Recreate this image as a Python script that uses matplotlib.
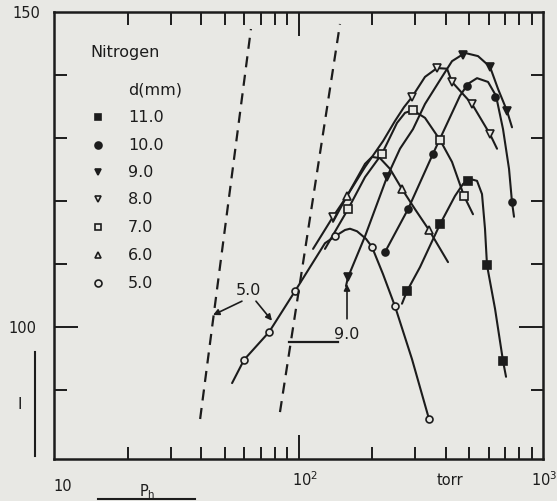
import matplotlib
matplotlib.use('Agg')
import matplotlib.pyplot as plt
from matplotlib.lines import Line2D
from matplotlib.ticker import FixedLocator

bg = '#e8e8e4'
ink = '#1c1c1c'

# legend (diameter in mm)
d_labels = ['11.0', '10.0', '9.0', '8.0', '7.0', '6.0', '5.0']

# curves: pressure (torr) and value
p_5 = [53.5, 59.9, 75.8, 96.8, 128.3, 141.1, 155.0, 162.4, 173.5, 188.8, 199.8, 221.6, 248.1, 291.2, 341.8]
v_5 = [91.1, 94.8, 99.2, 105.7, 113.3, 114.4, 115.4, 115.6, 115.2, 114.0, 112.7, 108.4, 103.3, 94.9, 85.4]
p_6 = [138.4, 157.9, 187.1, 199.8, 215.4, 236.7, 265.0, 299.6, 341.8, 408.8]
v_6 = [116.7, 120.8, 125.9, 127.0, 126.8, 125.1, 121.9, 118.7, 115.4, 110.3]
p_7 = [128.3, 159.4, 187.1, 219.5, 252.9, 272.7, 293.9, 329.1, 379.0, 424.5, 475.3, 517.2]
v_7 = [112.4, 118.7, 123.8, 127.5, 132.4, 134.0, 134.4, 133.2, 129.7, 126.2, 120.8, 117.9]
p_8 = [114.7, 138.4, 157.9, 187.1, 221.6, 248.1, 270.1, 291.2, 329.1, 368.6, 405.0, 424.5, 512.4, 607.1, 648.6]
v_8 = [112.4, 117.5, 120.8, 125.4, 129.5, 132.7, 134.9, 136.5, 139.7, 141.1, 141.0, 138.9, 135.4, 130.6, 128.3]
p_9 = [156.4, 159.4, 187.1, 230.1, 260.1, 293.9, 329.1, 386.3, 424.5, 479.8, 542.2, 607.1, 654.6, 712.6, 746.9]
v_9 = [106.5, 107.9, 114.4, 123.8, 128.3, 131.4, 135.4, 139.7, 142.2, 143.5, 143.0, 141.3, 137.8, 134.3, 131.7]
p_10 = [225.9, 280.5, 354.9, 416.6, 457.6, 493.6, 537.2, 595.9, 642.5, 686.3, 726.2, 746.9, 761.1]
v_10 = [111.9, 118.7, 127.5, 133.3, 136.7, 138.6, 139.5, 138.9, 136.7, 131.4, 125.1, 119.8, 117.5]
p_11 = [265.0, 277.8, 314.0, 379.0, 436.6, 470.8, 502.8, 537.2, 563.0, 579.1, 590.2, 636.5, 686.3, 706.0]
v_11 = [103.7, 105.7, 109.5, 116.3, 120.8, 122.7, 123.5, 123.2, 121.1, 115.6, 109.8, 102.9, 94.6, 92.1]

# measured points
pm_5 = [59.9, 75.8, 96.8, 141.1, 199.8, 248.1, 341.8]
vm_5 = [94.8, 99.2, 105.7, 114.4, 112.7, 103.3, 85.4]
pm_6 = [157.9, 265.0, 341.8]
vm_6 = [120.8, 121.9, 115.4]
pm_7 = [159.4, 219.5, 293.9, 379.0, 475.3]
vm_7 = [118.7, 127.5, 134.4, 129.7, 120.8]
pm_8 = [138.4, 291.2, 368.6, 424.5, 512.4, 607.1]
vm_8 = [117.5, 136.5, 141.1, 138.9, 135.4, 130.6]
pm_9 = [159.4, 230.1, 470.8, 607.1, 712.6]
vm_9 = [107.9, 123.8, 143.2, 141.3, 134.3]
pm_10 = [225.9, 280.5, 354.9, 489.0, 636.5, 746.9]
vm_10 = [111.9, 118.7, 127.5, 138.3, 136.5, 119.8]
pm_11 = [277.8, 379.0, 493.6, 590.2, 686.3]
vm_11 = [105.7, 116.3, 123.2, 109.8, 94.6]

# dashed boundary lines
dash_a_p = [39.6, 63.9]
dash_a_v = [85.4, 147.3]
dash_b_p = [84.0, 147.8]
dash_b_v = [86.5, 148.1]

series = [
    (p_11, v_11, pm_11, vm_11, 's', True),
    (p_10, v_10, pm_10, vm_10, 'o', True),
    (p_9, v_9, pm_9, vm_9, 'v', True),
    (p_8, v_8, pm_8, vm_8, 'v', False),
    (p_7, v_7, pm_7, vm_7, 's', False),
    (p_6, v_6, pm_6, vm_6, '^', False),
    (p_5, v_5, pm_5, vm_5, 'o', False),
]

W, H = 557, 502
fig = plt.figure(figsize=(W / 100, H / 100), dpi=100, facecolor=bg)
ax = fig.add_axes([54 / W, 42 / H, 489 / W, 447 / H], facecolor=bg)
ax.set_xscale('log')
ax.set_xlim(10, 1000)
ax.set_ylim(79.05, 150)


def fxy(x, y):
    return x / W, 1 - y / H


def axp(x, y):
    return (x - 54) / 489, (460 - y) / 447


# curves
for p, v, pm, vm, mk, filled in series:
    ax.plot(p, v, color=ink, lw=1.5, solid_capstyle='round')
    ax.plot(pm, vm, linestyle='none', marker=mk, ms=5.5 if mk != 'o' else 5,
            mfc=ink if filled else bg, mec=ink, mew=1.2)

ax.plot(dash_a_p, dash_a_v, color=ink, lw=1.6, linestyle=(0, (5, 3.4)))
ax.plot(dash_b_p, dash_b_v, color=ink, lw=1.6, linestyle=(0, (5, 3.4)))

# annotations
arw = dict(arrowstyle='-|>', color=ink, lw=1.2, mutation_scale=9, shrinkA=0, shrinkB=0)
ax.text(62.7, 105.9, '5.0', ha='center', va='center', fontsize=11.5, color=ink)
ax.annotate('', xy=(44.7, 101.9), xytext=(58.7, 104.1), arrowprops=arw)
ax.annotate('', xy=(77.9, 101.0), xytext=(67.0, 104.1), arrowprops=arw)
ax.text(157.9, 98.9, '9.0', ha='center', va='center', fontsize=11.5, color=ink)
ax.annotate('', xy=(157.9, 106.8), xytext=(157.9, 101.3), arrowprops=arw)
ax.plot([91.5, 145.1], [97.6, 97.6], color=ink, lw=1.6)

# axes styling
for s in ax.spines.values():
    s.set_linewidth(1.8)
    s.set_color(ink)
ax.xaxis.set_major_locator(FixedLocator([100]))
ax.xaxis.set_minor_locator(FixedLocator([20, 30, 40, 50, 60, 70, 80, 90,
                                         200, 300, 400, 500, 600, 700, 800, 900]))
ax.yaxis.set_major_locator(FixedLocator([100]))
ax.yaxis.set_minor_locator(FixedLocator([90, 110, 120, 130, 140]))
ax.tick_params(which='both', direction='in', top=True, right=True,
               labelbottom=False, labelleft=False, width=1.4, color=ink)
ax.tick_params(which='major', length=17)
ax.tick_params(which='minor', length=9)

# legend
ax.text(*axp(90, 53), 'Nitrogen', transform=ax.transAxes, ha='left', va='center', fontsize=11.5, color=ink)
ax.text(*axp(128, 90), 'd(mm)', transform=ax.transAxes, ha='left', va='center', fontsize=11.5, color=ink)
rows = [118, 146, 173, 200, 228, 256, 284]
for (p, v, pm, vm, mk, filled), lab, yy in zip(series, d_labels, rows):
    ax.plot(*axp(98, yy), transform=ax.transAxes, linestyle='none', marker=mk, ms=5,
            mfc=ink if filled else bg, mec=ink, mew=1.2, clip_on=False)
    ax.text(*axp(128, yy), lab, transform=ax.transAxes, ha='left', va='center', fontsize=11.5, color=ink)

# outer labels
fig.text(*fxy(26, 13), '150', ha='center', va='center', fontsize=10.5, color=ink)
fig.text(*fxy(22, 329), '100', ha='center', va='center', fontsize=10.5, color=ink)
fig.text(*fxy(63, 487), '10', ha='center', va='center', fontsize=10.5, color=ink)
fig.text(*fxy(305, 480), '10$^2$', ha='center', va='center', fontsize=10.5, color=ink)
fig.text(*fxy(450, 481), 'torr', ha='center', va='center', fontsize=10.5, color=ink)
fig.text(*fxy(544, 480), '10$^3$', ha='center', va='center', fontsize=10.5, color=ink)
fig.text(*fxy(147, 492), '$\\mathregular{P_h}$', ha='center', va='center', fontsize=10.5, color=ink)
fig.text(*fxy(20, 405), 'I', ha='center', va='center', fontsize=11, color=ink)
fig.add_artist(Line2D([98 / W, 195 / W], [1 - 500 / H] * 2, color=ink, lw=1.5, transform=fig.transFigure))
fig.add_artist(Line2D([35 / W] * 2, [1 - 353 / H, 1 - 457 / H], color=ink, lw=1.5, transform=fig.transFigure))

fig.savefig('out.png', dpi=100, facecolor=bg)
